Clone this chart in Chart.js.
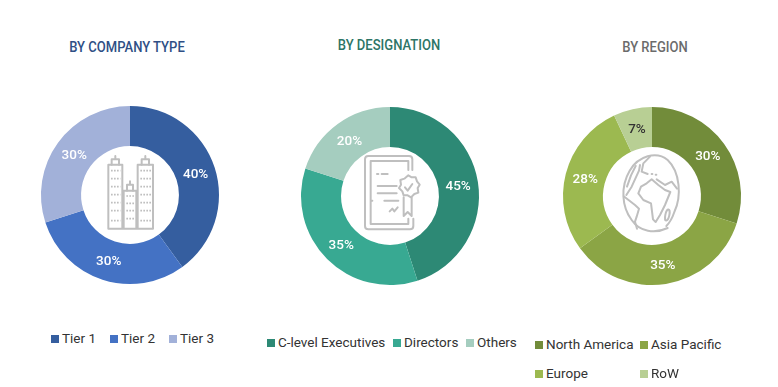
<!DOCTYPE html>
<html>
<head>
<meta charset="utf-8">
<title>Donut charts</title>
<script src="https://cdn.jsdelivr.net/npm/chart.js@4/dist/chart.umd.min.js"></script>
<style>
  html, body { margin: 0; padding: 0; background: #fff; }
  #page { position: relative; width: 778px; height: 387px; overflow: hidden; font-family: Roboto, sans-serif; }
  .title { position: absolute; font-weight: 500; font-size: 15.5px; white-space: nowrap; transform: translateX(-50%) scaleX(0.84); }
  .box { position: absolute; width: 200px; height: 200px; }
  .icon { position: absolute; fill: none; stroke: #bfbfbf; stroke-width: 6; stroke-linejoin: round; stroke-linecap: round; }
  .legend-item { position: absolute; font-size: 13.5px; color: #333; white-space: nowrap; line-height: 16px; }
  .legend-item i { display: inline-block; width: 8px; height: 8px; margin-right: 3px; vertical-align: 0; }
</style>
</head>
<body>
<div id="page"></div>
<script>
// Values
const companyLabels = ["Tier 1", "Tier 2", "Tier 3"];
const companyValues = [40, 30, 30];
const companyColors = ["#355e9f", "#4472c4", "#a2b1d9"];

const designationLabels = ["C-level Executives", "Directors", "Others"];
const designationValues = [45, 35, 20];
const designationColors = ["#2d8975", "#38a992", "#a5cdbf"];

const regionLabels = ["North America", "Asia Pacific", "Europe", "RoW"];
const regionValues = [30, 35, 28, 7];
const regionColors = ["#728c3a", "#8ba545", "#9cb950", "#b8cf94"];

const page = document.getElementById("page");

// Percent labels on each slice
const sliceLabels = {
  id: "sliceLabels",
  afterDatasetsDraw(chart) {
    const ctx = chart.ctx;
    const values = chart.data.datasets[0].data;
    ctx.save();
    ctx.font = "500 13.5px Roboto, sans-serif";
    ctx.textAlign = "center";
    ctx.textBaseline = "middle";
    chart.getDatasetMeta(0).data.forEach((arc, i) => {
      const pos = arc.tooltipPosition();
      ctx.fillStyle = values[i] < 10 ? "#333333" : "#ffffff";
      ctx.fillText(values[i] + "%", pos.x, pos.y + 1);
    });
    ctx.restore();
  },
};

function addDonut(cx, cy, labels, values, colors) {
  const box = document.createElement("div");
  box.className = "box";
  box.style.left = cx - 100 + "px";
  box.style.top = cy - 100 + "px";
  const canvas = document.createElement("canvas");
  box.appendChild(canvas);
  page.appendChild(box);

  new Chart(canvas.getContext("2d"), {
    type: "doughnut",
    data: {
      labels: labels,
      datasets: [{ data: values, backgroundColor: colors, borderWidth: 0 }],
    },
    options: {
      responsive: true,
      maintainAspectRatio: false,
      animation: false,
      cutout: "55%",
      layout: { padding: 11 },
      plugins: { legend: { display: false }, tooltip: { enabled: false } },
    },
    plugins: [sliceLabels],
  });
}

function addTitle(text, x, y, color) {
  const el = document.createElement("div");
  el.className = "title";
  el.textContent = text;
  el.style.left = x + "px";
  el.style.top = y + "px";
  el.style.color = color;
  page.appendChild(el);
}

function addLegendItem(text, color, x, y) {
  const el = document.createElement("div");
  el.className = "legend-item";
  el.style.left = x + "px";
  el.style.top = y + "px";
  const swatch = document.createElement("i");
  swatch.style.background = color;
  el.appendChild(swatch);
  el.appendChild(document.createTextNode(text));
  page.appendChild(el);
}

// Icons are traced at 3x, in a 210x270 box placed over the donut hole
function addIcon(left, top, markup) {
  const svg = document.createElementNS("http://www.w3.org/2000/svg", "svg");
  svg.setAttribute("class", "icon");
  svg.setAttribute("width", 70);
  svg.setAttribute("height", 90);
  svg.setAttribute("viewBox", "0 0 210 270");
  svg.style.left = left + "px";
  svg.style.top = top + "px";
  svg.innerHTML = markup;
  page.appendChild(svg);
}

addDonut(130, 195, companyLabels, companyValues, companyColors);
addDonut(390, 196, designationLabels, designationValues, designationColors);
addDonut(651.5, 196, regionLabels, regionValues, regionColors);

addTitle("BY COMPANY TYPE", 127, 38, "#2f4f85");
addTitle("BY DESIGNATION", 389, 36, "#2d7566");
addTitle("BY REGION", 655, 38, "#6b6b6b");

// Buildings
addIcon(95, 150, `
  <path d="M40 236V44H82V236ZM128 236V44H174V236ZM86 236V122H124V236ZM40 236H174"/>
  <path d="M50 44V28H72V28V44M61 28V18M140 44V28H162V44M151 28V18M96 122V104H114V122M105 104V94"/>
  <path stroke-width="5" stroke-linecap="butt" stroke-dasharray="5 4" d="M48 62H76M48 86H76M48 110H76M48 134H76M48 158H76M48 182H76M48 212H76M136 62H168M136 86H168M136 110H168M136 134H168M136 158H168M136 182H168M136 212H168M94 138H118M94 160H118M94 182H118M94 206H118"/>`);

// Certificate
addIcon(355, 150, `
  <path d="M172 60V28Q172 18 162 18H40Q30 18 30 28V228Q30 238 40 238H165Q175 238 175 228V206M47 33H160V60M47 33V222H160V206"/>
  <path d="M66 72H70M80 72H98M68 108H125M68 130H125M48 152H52M88 152H130M104 184L112 176L118 184L128 172"/>
  <path d="M160 76L170 82L182 82L186 94L194 104L188 114L190 128L178 132L168 142L158 136L146 136L142 124L132 114L138 104L136 90L148 86Z"/>
  <path d="M150 112L158 122L172 102M146 142V198L158 186L170 198V142"/>`);

// Globe
addIcon(615, 150, `
  <path d="M158 234C120 252 74 246 50 210C20 170 16 110 44 62C70 18 124 2 158 30C196 66 200 140 178 186C172 204 166 216 154 228"/>
  <path d="M75 45L72 62L50 110L34 135M62 48L48 76L36 110M28 140L60 165L72 176L65 200L60 215L66 236"/>
  <path d="M105 20L85 40L80 65L98 72M110 72H112M122 74H124M125 88L150 105L170 95L186 116"/>
  <path d="M95 100L110 88L130 105L150 120L166 126L150 165L135 195L122 216L114 208L108 160L85 150L70 130L78 110Z"/>
  <ellipse cx="157" cy="195" rx="6" ry="17" transform="rotate(12 157 195)"/>`);

companyLabels.forEach((t, i) => addLegendItem(t, companyColors[i], [51, 110, 169][i], 330));
designationLabels.forEach((t, i) => addLegendItem(t, designationColors[i], [267, 393, 466][i], 334));
addLegendItem(regionLabels[0], regionColors[0], 535, 336);
addLegendItem(regionLabels[1], regionColors[1], 640, 336);
addLegendItem(regionLabels[2], regionColors[2], 535, 365);
addLegendItem(regionLabels[3], regionColors[3], 640, 365);
</script>
</body>
</html>
